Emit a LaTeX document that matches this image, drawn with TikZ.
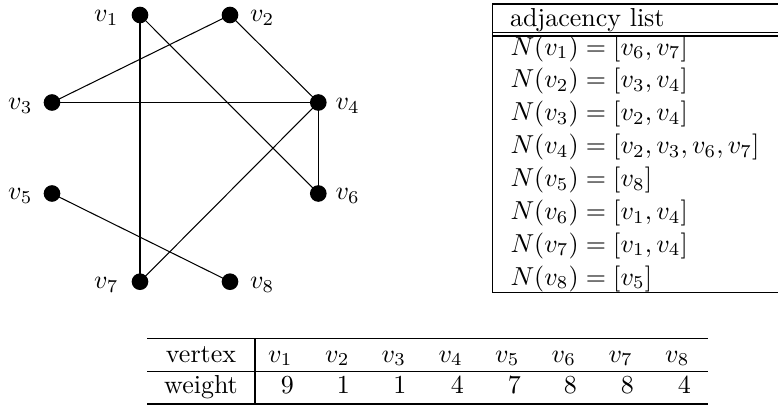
\documentclass[tikz,border=0pt]{standalone}
\begin{document}
\begin{tikzpicture}[x=0.385pt,y=-0.385pt,
  vtx/.style={circle,fill=black,inner sep=0pt,minimum size=6.4pt},
  edge/.style={line width=0.4pt},
  txt/.style={inner sep=0pt},
  rulel/.style={line width=0.4pt}]
\useasboundingbox (0,0) rectangle (778,405);
% graph
\node[vtx] (v1) at (140,15) {};
\node[vtx] (v2) at (230,15) {};
\node[vtx] (v3) at (52,102.5) {};
\node[vtx] (v4) at (318.3,102.5) {};
\node[vtx] (v5) at (52,193.5) {};
\node[vtx] (v6) at (318.3,193.5) {};
\node[vtx] (v7) at (140,281.7) {};
\node[vtx] (v8) at (230,281.7) {};
\node[txt,anchor=base east] (l1) at (119,21.5) {$v_1$};
\node[txt,anchor=base west] (l2) at (249.5,21.5) {$v_2$};
\node[txt,anchor=base east] (l3) at (33,109.5) {$v_3$};
\node[txt,anchor=base west] (l4) at (335,109.5) {$v_4$};
\node[txt,anchor=base east] (l5) at (33,200) {$v_5$};
\node[txt,anchor=base west] (l6) at (335,200) {$v_6$};
\node[txt,anchor=base east] (l7) at (119,288.5) {$v_7$};
\node[txt,anchor=base west] (l8) at (249.5,288.5) {$v_8$};
\draw[edge] (v1.center) -- (v7.center);
\draw[edge] (v1.center) -- (v6.center);
\draw[edge] (v2.center) -- (v3.center);
\draw[edge] (v2.center) -- (v4.center);
\draw[edge] (v3.center) -- (v4.center);
\draw[edge] (v4.center) -- (v6.center);
\draw[edge] (v4.center) -- (v7.center);
\draw[edge] (v5.center) -- (v8.center);
% adjacency list
\coordinate (atr) at (778,4);
\coordinate (atl) at (492.7,4);
\coordinate (abl) at (492.7,292.5);
\coordinate (abr) at (778,292.5);
\draw[rulel] (atr) -- (atl) -- (abl) -- (abr);
\draw[rulel] (492.7,32.5) coordinate (d1l) -- (778,32.5) coordinate (d1r);
\draw[rulel] (492.7,36) coordinate (d2l) -- (778,36) coordinate (d2r);
\node[txt,anchor=base west] (ah) at (509.5,26) {adjacency list};
\node[txt,anchor=base west] (a1) at (510,55) {$N(v_1)=[v_6,v_7]$};
\node[txt,anchor=base west] (a2) at (510,87.9) {$N(v_2)=[v_3,v_4]$};
\node[txt,anchor=base west] (a3) at (510,120.7) {$N(v_3)=[v_2,v_4]$};
\node[txt,anchor=base west] (a4) at (510,153.6) {$N(v_4)=[v_2,v_3,v_6,v_7]$};
\node[txt,anchor=base west] (a5) at (510,186.4) {$N(v_5)=[v_8]$};
\node[txt,anchor=base west] (a6) at (510,219.3) {$N(v_6)=[v_1,v_4]$};
\node[txt,anchor=base west] (a7) at (510,252.1) {$N(v_7)=[v_1,v_4]$};
\node[txt,anchor=base west] (a8) at (510,285) {$N(v_8)=[v_5]$};
% weight table
\draw[rulel] (147,338.3) -- (708.3,338.3);
\draw[rulel] (147,371.7) -- (708.3,371.7);
\draw[rulel] (147,404) -- (708.3,404);
\draw[rulel] (255,338.3) -- (255,404);
\node[txt,anchor=base] (hv) at (201,362) {vertex};
\node[txt,anchor=base] (hw) at (201,393) {weight};
\node[txt,anchor=base east] (c1) at (293,362) {$v_1$};
\node[txt,anchor=base east] (c2) at (350,362) {$v_2$};
\node[txt,anchor=base east] (c3) at (406.5,362) {$v_3$};
\node[txt,anchor=base east] (c4) at (463.3,362) {$v_4$};
\node[txt,anchor=base east] (c5) at (520,362) {$v_5$};
\node[txt,anchor=base east] (c6) at (576.5,362) {$v_6$};
\node[txt,anchor=base east] (c7) at (633.3,362) {$v_7$};
\node[txt,anchor=base east] (c8) at (690,362) {$v_8$};
\node[txt,anchor=base east] (w1) at (294.5,393) {9};
\node[txt,anchor=base east] (w2) at (350.5,393) {1};
\node[txt,anchor=base east] (w3) at (407,393) {1};
\node[txt,anchor=base east] (w4) at (464.5,393) {4};
\node[txt,anchor=base east] (w5) at (521.5,393) {7};
\node[txt,anchor=base east] (w6) at (577.5,393) {8};
\node[txt,anchor=base east] (w7) at (634.5,393) {8};
\node[txt,anchor=base east] (w8) at (691.5,393) {4};
\end{tikzpicture}
\end{document}
